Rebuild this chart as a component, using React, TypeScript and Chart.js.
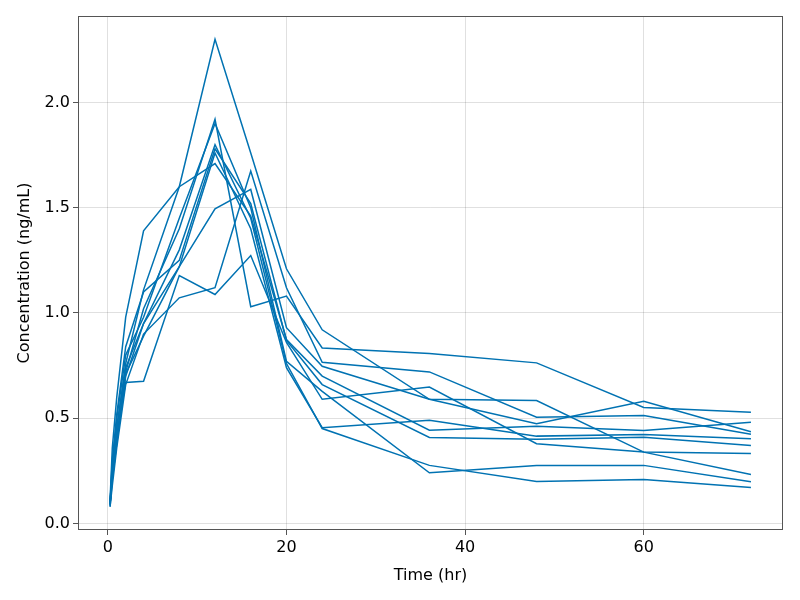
import React, { useEffect, useRef } from "react";
import { Chart, registerables } from "chart.js";

Chart.register(...registerables);

// Sampling times (hr)
const times = [0.25, 0.5, 1, 2, 4, 8, 12, 16, 20, 24, 36, 48, 60, 72];

// Concentration (ng/mL) per subject
const subject1 = [0.09, 0.24, 0.45, 0.76, 1.11, 1.6, 2.3, 1.76, 1.21, 0.92, 0.59, 0.584, 0.339, 0.233];
const subject2 = [0.1, 0.22, 0.4, 0.72, 1.02, 1.4, 1.92, 1.03, 1.08, 0.834, 0.808, 0.763, 0.551, 0.529];
const subject3 = [0.11, 0.36, 0.6, 0.98, 1.39, 1.6, 1.71, 1.46, 0.874, 0.7, 0.443, 0.462, 0.442, 0.481];
const subject4 = [0.08, 0.18, 0.36, 0.66, 0.9, 1.072, 1.12, 1.674, 1.12, 0.766, 0.72, 0.505, 0.513, 0.424];
const subject5 = [0.09, 0.25, 0.42, 0.67, 0.676, 1.178, 1.088, 1.273, 0.86, 0.59, 0.648, 0.379, 0.339, 0.333];
const subject6 = [0.1, 0.26, 0.46, 0.74, 0.95, 1.22, 1.495, 1.587, 0.93, 0.747, 0.59, 0.474, 0.581, 0.436];
const subject7 = [0.09, 0.28, 0.5, 0.8, 0.98, 1.45, 1.9, 1.5, 0.77, 0.628, 0.241, 0.276, 0.276, 0.198];
const subject8 = [0.08, 0.21, 0.38, 0.7, 0.95, 1.3, 1.8, 1.45, 0.76, 0.451, 0.276, 0.2, 0.209, 0.171];
const subject9 = [0.1, 0.3, 0.52, 0.84, 1.1, 1.25, 1.78, 1.52, 0.87, 0.66, 0.409, 0.4, 0.41, 0.37];
const subject10 = [0.09, 0.23, 0.41, 0.71, 0.89, 1.22, 1.76, 1.4, 0.74, 0.455, 0.49, 0.415, 0.423, 0.402];

const subjects = [subject1, subject2, subject3, subject4, subject5, subject6, subject7, subject8, subject9, subject10];

const xTicks = [0, 20, 40, 60];
const yTicks = [0, 0.5, 1, 1.5, 2];
const xTitle = "Time (hr)";
const yTitle = "Concentration (ng/mL)";

const LINE_COLOR = "#0072b2";
const FONT = "'DejaVu Sans', sans-serif";

const framePlugin = {
  id: "frame",
  afterDraw(chart: any) {
    const { ctx, chartArea } = chart;
    const l = Math.round(chartArea.left) + 0.5;
    const t = Math.round(chartArea.top) + 0.5;
    const r = Math.round(chartArea.right) - 0.5;
    const b = Math.round(chartArea.bottom) - 0.5;
    ctx.save();
    ctx.strokeStyle = "#555555";
    ctx.lineWidth = 1;
    ctx.strokeRect(l, t, r - l, b - t);
    ctx.restore();
  },
};

export default function App() {
  const ref = useRef<HTMLCanvasElement | null>(null);

  useEffect(() => {
    document.body.style.margin = "0";
    const canvas = ref.current;
    if (!canvas) return;

    const datasets = subjects.map((vals, i) => ({
      label: `Subject ${i + 1}`,
      data: vals.map((v, j) => ({ x: times[j], y: v })),
      borderColor: LINE_COLOR,
      backgroundColor: LINE_COLOR,
      borderWidth: 1.5,
      pointRadius: 0,
      tension: 0,
      fill: false,
    }));

    const chart = new Chart(canvas, {
      type: "line",
      data: { datasets },
      options: {
        animation: false,
        responsive: false,
        maintainAspectRatio: false,
        layout: { padding: { left: 8, right: 17, top: 16, bottom: 0 } },
        plugins: {
          legend: { display: false },
          tooltip: { enabled: false },
        },
        scales: {
          x: {
            type: "linear",
            min: -3.34,
            max: 75.59,
            afterBuildTicks: (axis: any) => {
              axis.ticks = xTicks.map((v) => ({ value: v }));
            },
            afterFit: (scale: any) => {
              scale.height = 70;
            },
            border: { display: false },
            grid: {
              color: "rgba(0,0,0,0.12)",
              lineWidth: 1,
              drawTicks: true,
              tickLength: 5,
              tickColor: "#555555",
            },
            ticks: {
              color: "#000",
              font: { family: FONT, size: 16 },
              padding: 3,
              maxRotation: 0,
              callback: (v: any) => String(v),
            },
            title: {
              display: true,
              text: xTitle,
              color: "#000",
              font: { family: FONT, size: 16 },
              padding: { top: 4, bottom: 15 },
            },
          },
          y: {
            type: "linear",
            min: -0.031,
            max: 2.411,
            afterBuildTicks: (axis: any) => {
              axis.ticks = yTicks.map((v) => ({ value: v }));
            },
            afterFit: (scale: any) => {
              scale.width = 70;
            },
            border: { display: false },
            grid: {
              color: "rgba(0,0,0,0.12)",
              lineWidth: 1,
              drawTicks: true,
              tickLength: 5,
              tickColor: "#555555",
            },
            ticks: {
              color: "#000",
              font: { family: FONT, size: 16 },
              padding: 3,
              callback: (v: any) => Number(v).toFixed(1),
            },
            title: {
              display: true,
              text: yTitle,
              color: "#000",
              font: { family: FONT, size: 16 },
              padding: { top: 7, bottom: 4 },
            },
          },
        },
      },
      plugins: [framePlugin],
    });

    return () => chart.destroy();
  }, []);

  return (
    <div style={{ width: 800, height: 600 }}>
      <canvas ref={ref} width={800} height={600} style={{ display: "block" }} />
    </div>
  );
}
